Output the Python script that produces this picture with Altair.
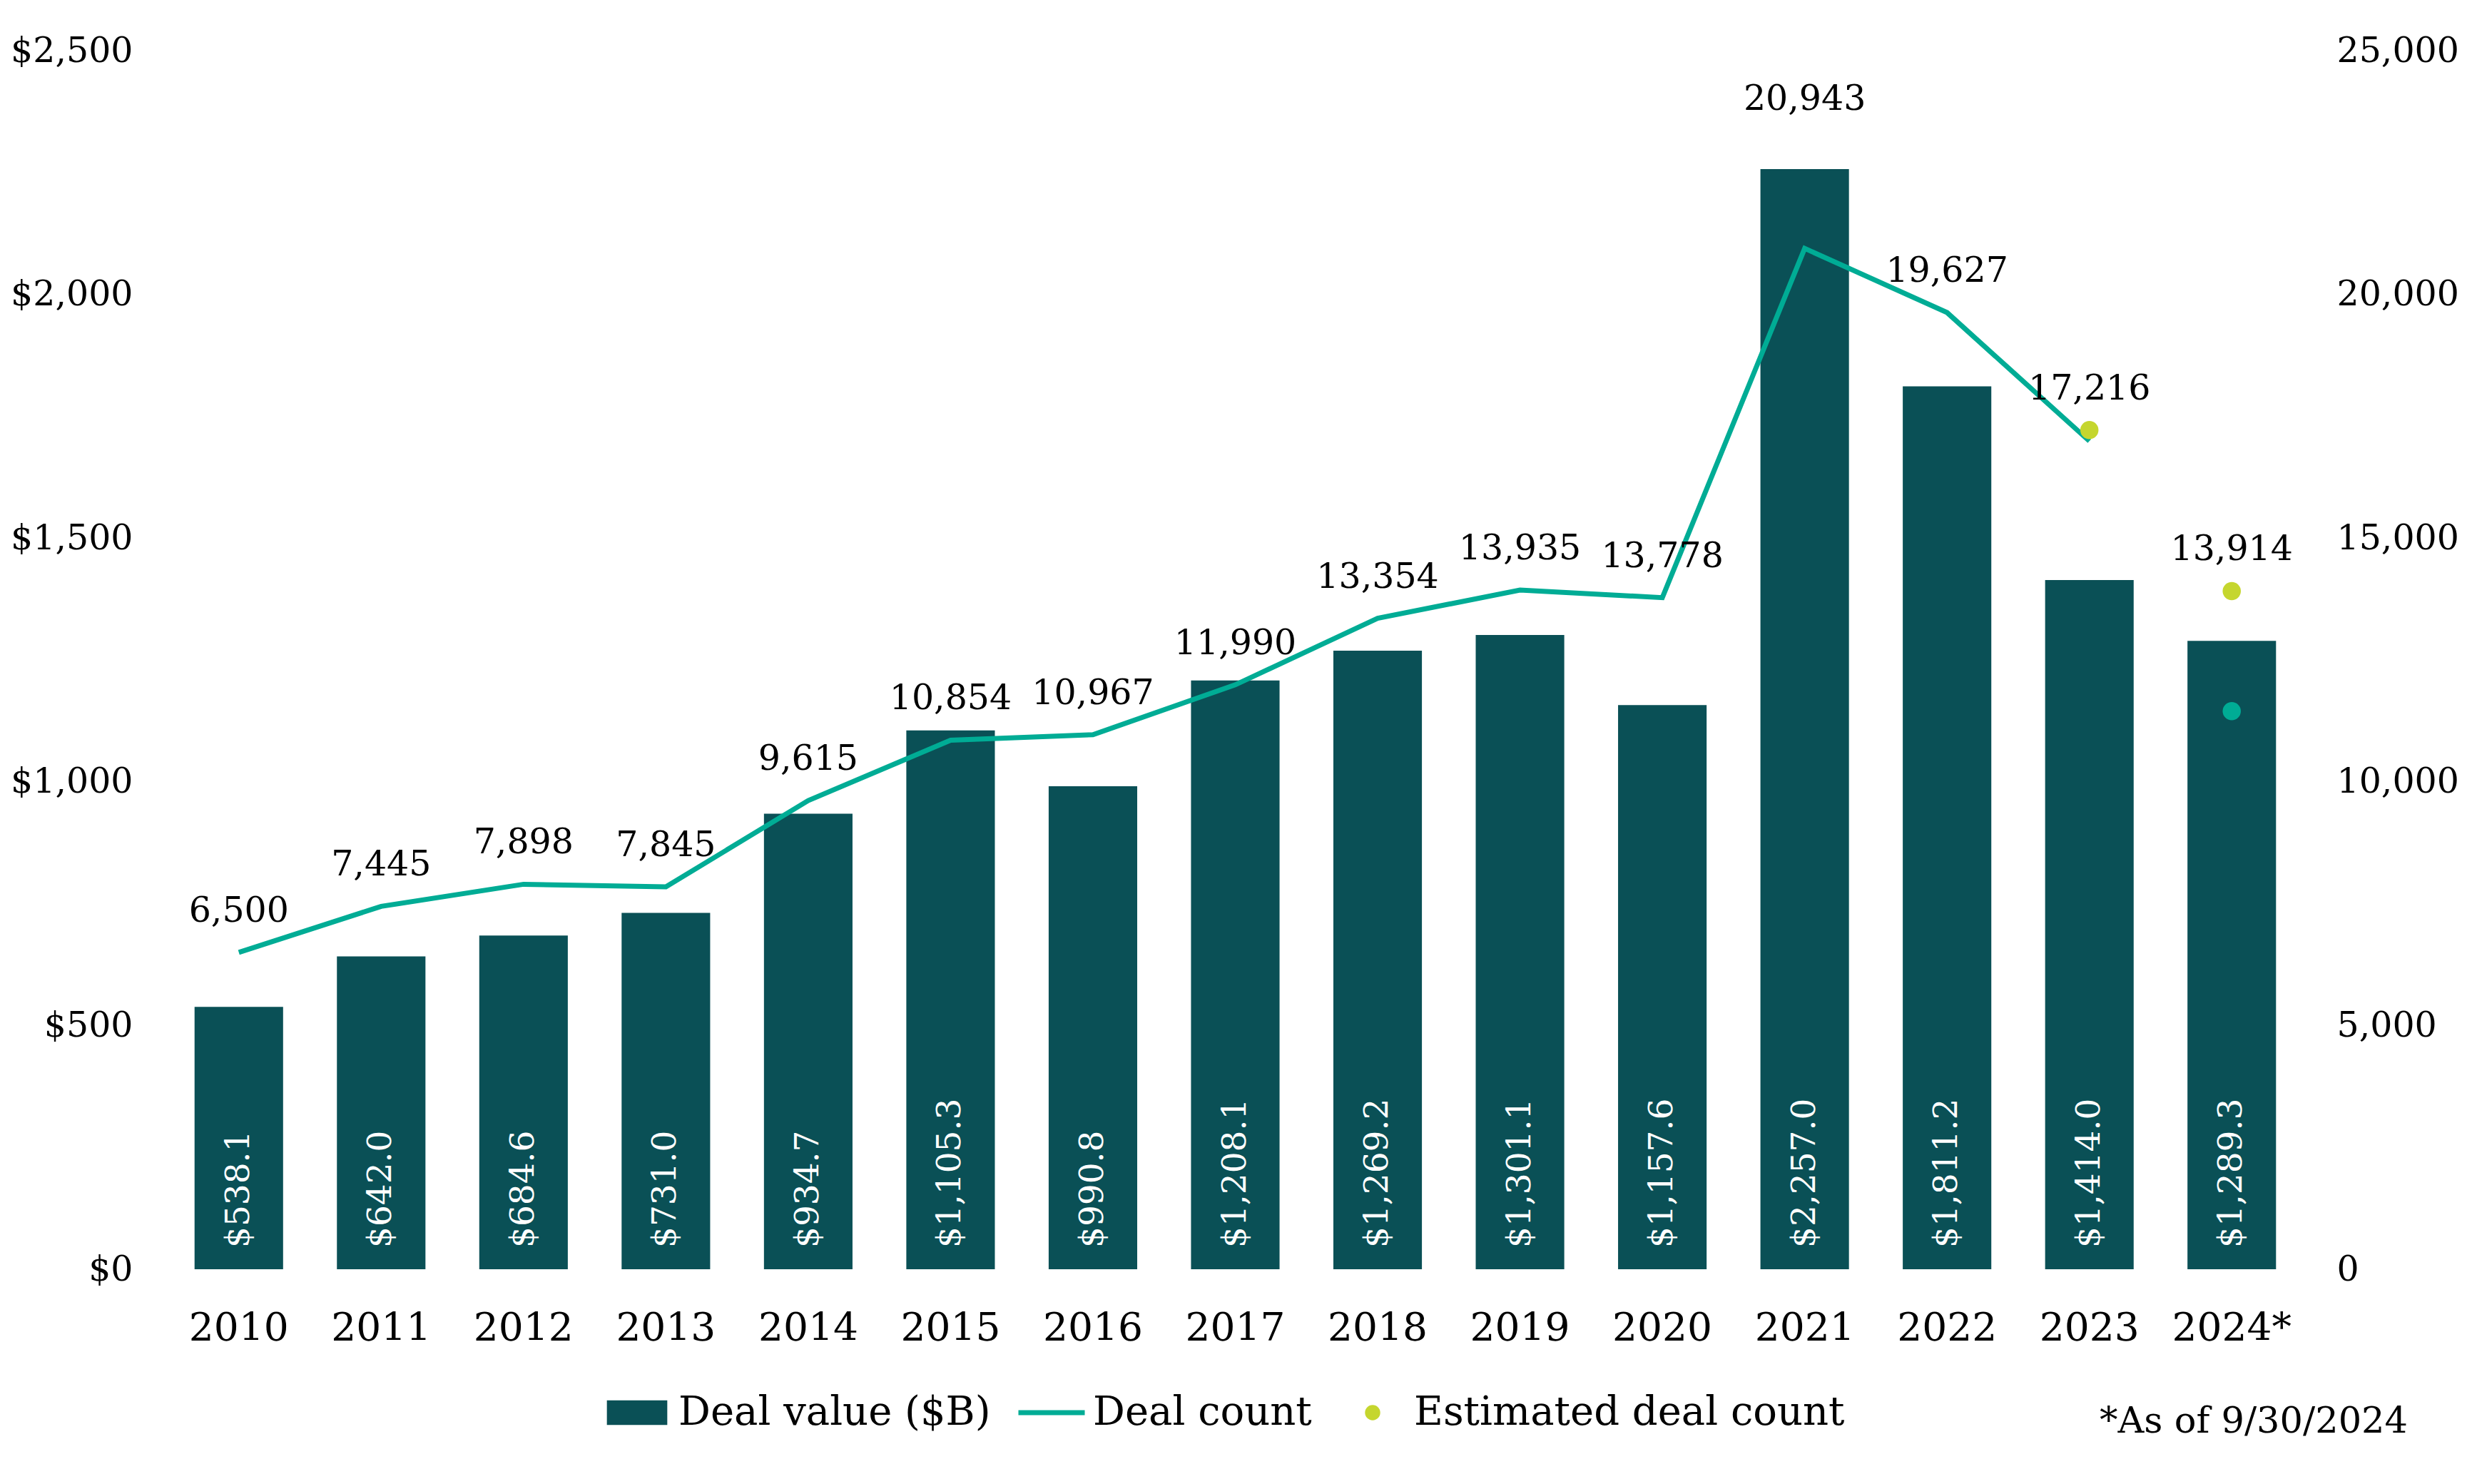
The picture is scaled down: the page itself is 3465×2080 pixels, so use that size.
import altair as alt
import pandas as pd

FONT = "DejaVu Serif"

years = ["2010", "2011", "2012", "2013", "2014", "2015", "2016", "2017",
         "2018", "2019", "2020", "2021", "2022", "2023", "2024*"]
deal_value = [538.1, 642.0, 684.6, 731.0, 934.7, 1105.3, 990.8, 1208.1,
              1269.2, 1301.1, 1157.6, 2257.0, 1811.2, 1414.0, 1289.3]
deal_count_line = [6500, 7445, 7898, 7845, 9615, 10854, 10967, 11990,
                   13354, 13935, 13778, 20943, 19627, 16990, None]
count_labels = [6500, 7445, 7898, 7845, 9615, 10854, 10967, 11990,
                13354, 13935, 13778, 20943, 19627, 17216, 13914]
estimated_count = [None] * 13 + [17216, 13914]
ytd_count = [None] * 14 + [11450]

series_names = ["Deal value ($B)", "Deal count", "Estimated deal count"]
footnote = "*As of 9/30/2024"

value_ticks = [0, 500, 1000, 1500, 2000, 2500]
count_ticks = [0, 5000, 10000, 15000, 20000, 25000]

BAR = "#0A5056"
LINE = "#00AC95"
EST = "#C5D62E"
series_colors = [BAR, LINE, EST]
series_shapes = [
    "M-0.91,-0.37H0.91V0.37H-0.91Z",
    "M-1,-0.075H1V0.075H-1Z",
    "M-0.23,0A0.23,0.23 0 1,0 0.23,0A0.23,0.23 0 1,0 -0.23,0Z",
]

df = pd.DataFrame({
    "year": years,
    "value": deal_value,
    "line_count": deal_count_line,
    "count_label": count_labels,
    "est_count": estimated_count,
    "ytd_count": ytd_count,
})
leg_df = pd.DataFrame({"series": series_names})
note_df = pd.DataFrame({"t": [footnote]})

x = alt.X(
    "year:N", sort=years,
    scale=alt.Scale(paddingInner=0.378, paddingOuter=0.189),
    axis=alt.Axis(title=None, labelAngle=0, domain=False, ticks=False,
                  labelFont=FONT, labelFontSize=55, labelColor="black",
                  labelPadding=82, labelBaseline="middle"),
)

def yval(field):
    return alt.Y(field, type="quantitative",
                 scale=alt.Scale(domain=[0, 2500], nice=False),
                 axis=alt.Axis(orient="left", values=value_ticks, format="$,.0f",
                               title=None, domain=False, ticks=False, grid=False,
                               labelFont=FONT, labelFontSize=49, labelColor="black",
                               labelPadding=49))

def ycount(field):
    return alt.Y(field, type="quantitative",
                 scale=alt.Scale(domain=[0, 25000], nice=False),
                 axis=alt.Axis(orient="right", values=count_ticks, format=",.0f",
                               title=None, domain=False, ticks=False, grid=False,
                               labelFont=FONT, labelFontSize=49, labelColor="black",
                               labelPadding=47, labelAlign="left"))

bars = alt.Chart(df).mark_bar(color=BAR).encode(x=x, y=yval("value"))
inner = alt.Chart(df).mark_text(
    angle=270, align="left", baseline="middle", dx=30,
    color="white", font=FONT, fontSize=47
).encode(x=x, y=alt.datum(0), text=alt.Text("value:Q", format="$,.1f"))
above_bar = alt.Chart(df).transform_filter(
    "datum.value * 10 > datum.count_label + 1000"
).mark_text(baseline="middle", dy=-98, color="black", font=FONT, fontSize=49
).encode(x=x, y=yval("value"), text=alt.Text("count_label:Q", format=","))
note = alt.Chart(note_df).mark_text(
    align="right", baseline="middle", color="black", font=FONT, fontSize=51
).encode(x=alt.value(3140), y=alt.value(1922), text="t:N")

bar_layer = alt.layer(bars, inner, above_bar, note)

line = alt.Chart(df).mark_line(color=LINE, strokeWidth=7).encode(x=x, y=ycount("line_count"))
est = alt.Chart(df).mark_circle(color=EST, size=650, opacity=1).encode(x=x, y=ycount("est_count"))
ytd = alt.Chart(df).mark_circle(color=LINE, size=650, opacity=1).encode(x=x, y=ycount("ytd_count"))
labels = alt.Chart(df).transform_filter(
    "datum.value * 10 <= datum.count_label + 1000"
).mark_text(baseline="middle", dy=-58, color="black", font=FONT, fontSize=49
).encode(x=x, y=ycount("count_label"), text=alt.Text("count_label:Q", format=","))

leg = alt.Legend(orient="none", legendX=611, legendY=1862,
                 direction="horizontal", title=None,
                 labelFont=FONT, labelFontSize=56, labelColor="black",
                 labelLimit=3000, symbolOpacity=1, symbolStrokeWidth=0,
                 symbolSize=8650, columnPadding=38, labelOffset=11)
legend_layer = alt.Chart(leg_df).mark_point(filled=True, opacity=0).encode(
    color=alt.Color("series:N", sort=series_names,
                    scale=alt.Scale(domain=series_names, range=series_colors), legend=leg),
    shape=alt.Shape("series:N", sort=series_names,
                    scale=alt.Scale(domain=series_names, range=series_shapes), legend=leg),
)

count_layer = alt.layer(line, est, ytd, labels, legend_layer)

chart = alt.layer(bar_layer, count_layer).resolve_scale(y="independent").properties(
    width=2993, height=1708,
    autosize=alt.AutoSizeParams(type="none"),
    padding={"left": 227, "top": 63, "right": 220, "bottom": 285},
).configure_view(stroke=None)

chart.save("out.html", embed_options={"renderer": "svg", "actions": False})
